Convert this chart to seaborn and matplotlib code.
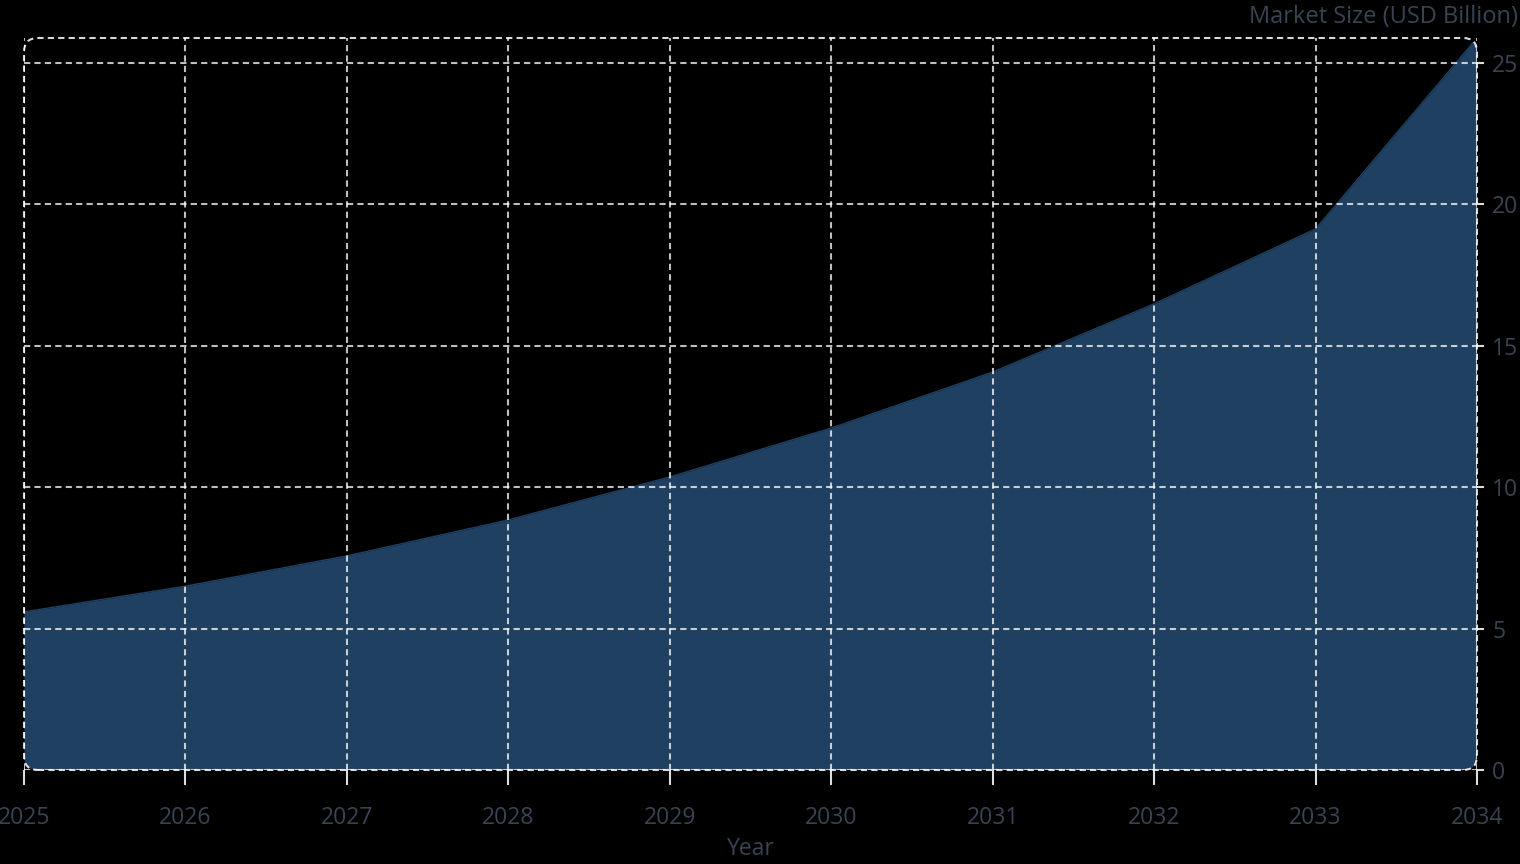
import matplotlib
matplotlib.use("Agg")
import matplotlib.pyplot as plt
import seaborn as sns
import pandas as pd
from matplotlib.patches import FancyBboxPatch

years = [2025, 2026, 2027, 2028, 2029, 2030, 2031, 2032, 2033, 2034]
market_size = [5.59, 6.5, 7.57, 8.84, 10.36, 12.09, 14.07, 16.48, 19.13, 25.88]
y_ticks = [0, 5, 10, 15, 20, 25]

df = pd.DataFrame({"Year": years, "Market Size": market_size})

sns.set_theme(style="dark")
plt.rcParams["font.family"] = ["Open Sans", "DejaVu Sans"]

W, H = 1520, 864
fig = plt.figure(figsize=(15.2, 8.64), dpi=100, facecolor="black")
L, R, T, B = 24, 1477, 38, 770
ax = fig.add_axes([L / W, 1 - B / H, (R - L) / W, (B - T) / H])
ax.set_facecolor("black")

fill_color = "#1f4060"
text_color = "#3a4354"

sns.lineplot(data=df, x="Year", y="Market Size", ax=ax, color=fill_color, linewidth=1)
poly = ax.fill_between(df["Year"], df["Market Size"], 0, color=fill_color, linewidth=0, zorder=1)

ax.set_xlim(2025, 2034)
ax.set_ylim(0, 25.88)
ax.set_xticks(years)
ax.set_yticks(y_ticks)
ax.yaxis.tick_right()

for s in ax.spines.values():
    s.set_visible(False)

grid_kw = dict(color="white", alpha=0.75, linewidth=1.5, linestyle=(0, (3, 2)))
ax.grid(True, **grid_kw)
ax.set_axisbelow(False)
for gl in ax.get_xgridlines() + ax.get_ygridlines():
    gl.set_zorder(3)

ax.tick_params(axis="x", bottom=True, length=11, width=1.5, color="#dddddd", pad=15,
               labelsize=16.5, labelcolor=text_color)
ax.tick_params(axis="y", right=True, left=False, length=5, width=1.5, color="#dddddd", pad=6,
               labelsize=16.5, labelcolor=text_color)

ax.set_xlabel("Year", fontsize=16.5, color=text_color, labelpad=5)
ax.set_ylabel("")
fig.text(1518 / W, 1 - 17 / H, "Market Size (USD Billion)", ha="right", va="center",
         fontsize=17, color=text_color)

border = FancyBboxPatch((L, H - B), R - L, B - T,
                        boxstyle="round,pad=0,rounding_size=14",
                        transform=None, fill=False, edgecolor="white", alpha=0.85,
                        linewidth=1.5, linestyle=(0, (3, 2)), zorder=5)
fig.patches.append(border)
clip = FancyBboxPatch((L, H - B), R - L, B - T,
                      boxstyle="round,pad=0,rounding_size=14", transform=None)
poly.set_clip_path(clip)
for ln in ax.lines:
    ln.set_clip_path(clip)

fig.savefig("out.png", dpi=100, facecolor="black")
